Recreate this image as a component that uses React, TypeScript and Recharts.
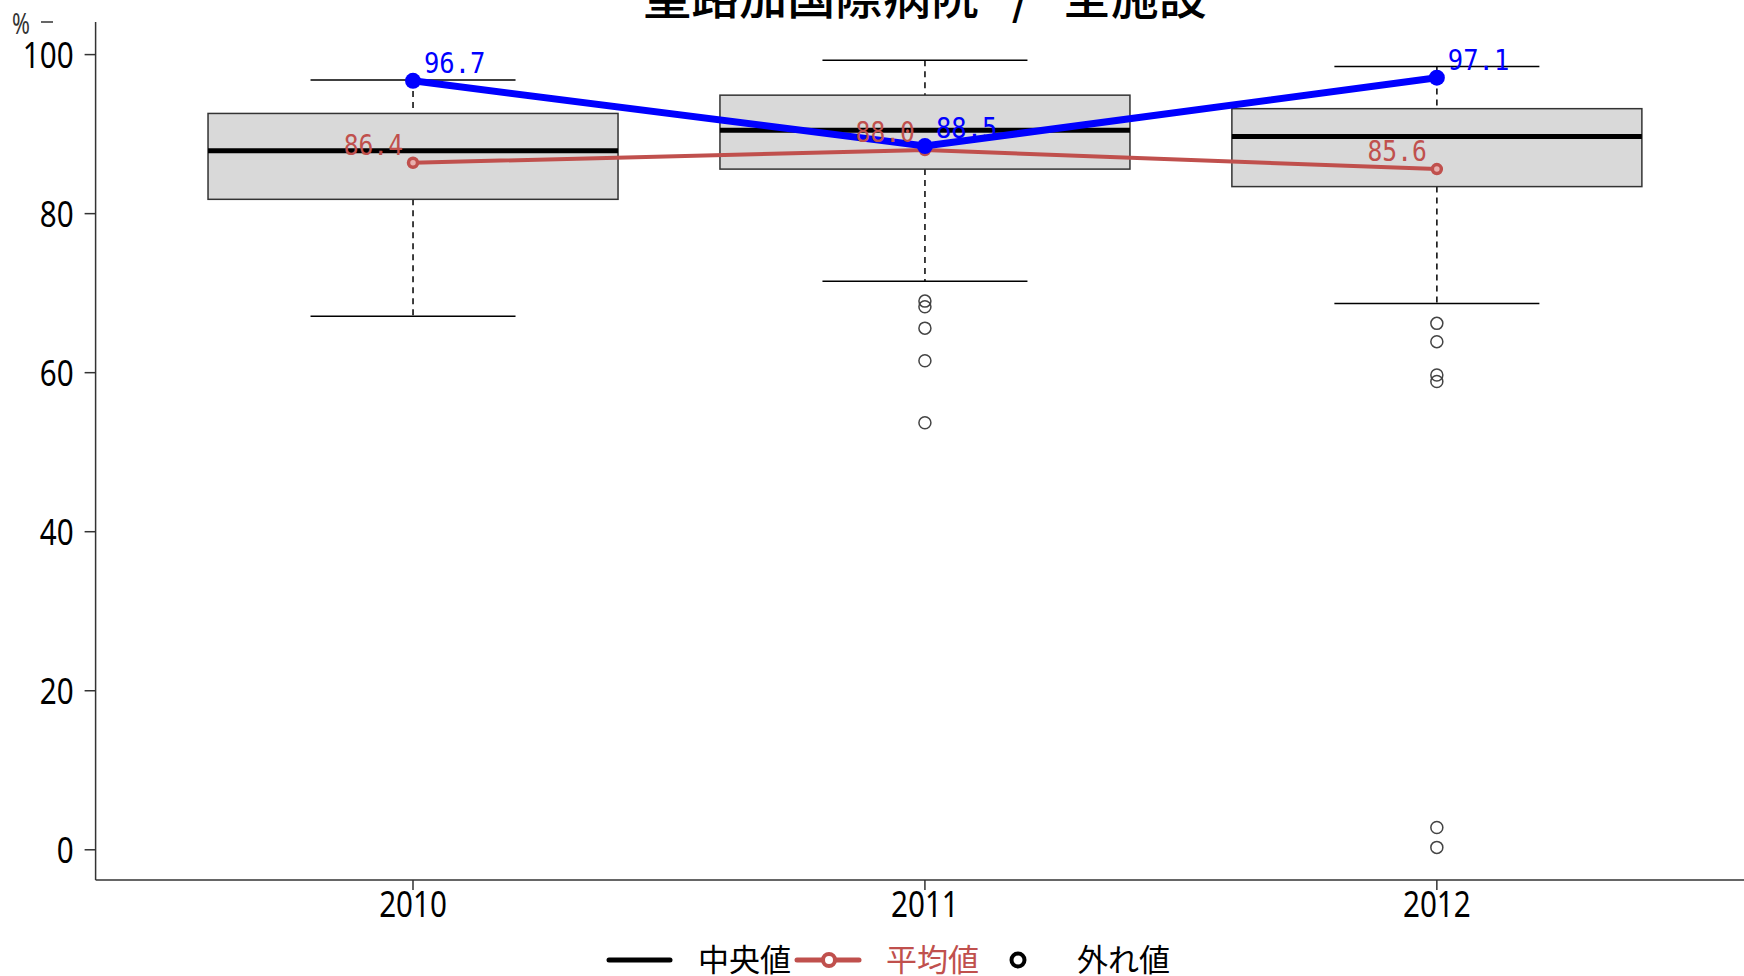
import React from 'react';
import {ComposedChart, Bar, Line, Scatter, XAxis, YAxis, LabelList} from 'recharts';

// 全施設の箱ひげ図 (年別)
const years = [2010, 2011, 2012];
const whiskerLow = [67.1, 71.5, 68.7];
const q1 = [81.8, 85.6, 83.4];
const median = [87.9, 90.5, 89.7];
const q3 = [92.6, 94.9, 93.2];
const whiskerHigh = [96.8, 99.3, 98.5];
const meanAll = [86.4, 88.0, 85.6];
// 聖路加国際病院の値
const hospital = [96.7, 88.5, 97.1];

const outlierYears = [2011, 2011, 2011, 2011, 2011, 2012, 2012, 2012, 2012, 2012, 2012];
const outlierValues = [69.0, 68.3, 65.6, 61.5, 53.7, 66.2, 63.9, 59.7, 58.9, 2.8, 0.3];

const yTicks = [0, 20, 40, 60, 80, 100];

const RED = '#C0504D';
const BLUE = '#0000FF';
const NUM_FONT = "'Noto Sans', sans-serif";
const CJK = "'Noto Sans CJK JP', sans-serif";

const data = years.map((year, i) => ({
    year,
    range: [whiskerLow[i], whiskerHigh[i]],
    whiskerLow: whiskerLow[i],
    q1: q1[i],
    median: median[i],
    q3: q3[i],
    whiskerHigh: whiskerHigh[i],
    mean: meanAll[i],
    hospital: hospital[i],
}));

const outliers = outlierYears.map((year, i) => ({year, value: outlierValues[i]}));

const BoxShape = (props: any) => {
    const {x, y, width, height, payload} = props;
    const top = height >= 0 ? y : y + height;
    const h = Math.abs(height);
    const hi = payload.whiskerHigh;
    const lo = payload.whiskerLow;
    const toY = (v: number) => top + ((hi - v) / (hi - lo)) * h;
    const cx = x + width / 2;
    const cap = width * 0.25;
    return (
        <g>
            <line x1={cx} x2={cx} y1={toY(hi)} y2={toY(payload.q3)} stroke='#000' strokeWidth={1.5} strokeDasharray='6 5' />
            <line x1={cx} x2={cx} y1={toY(payload.q1)} y2={toY(lo)} stroke='#000' strokeWidth={1.5} strokeDasharray='6 5' />
            <line x1={cx - cap} x2={cx + cap} y1={toY(hi)} y2={toY(hi)} stroke='#000' strokeWidth={1.5} />
            <line x1={cx - cap} x2={cx + cap} y1={toY(lo)} y2={toY(lo)} stroke='#000' strokeWidth={1.5} />
            <rect x={x} y={toY(payload.q3)} width={width} height={toY(payload.q1) - toY(payload.q3)}
                  fill='#D9D9D9' stroke='#333' strokeWidth={1.5} />
            <line x1={x} x2={x + width} y1={toY(payload.median)} y2={toY(payload.median)} stroke='#000' strokeWidth={5} />
        </g>
    );
};

const OutlierDot = (props: any) => (
    <circle cx={props.cx} cy={props.cy} r={6} fill='none' stroke='#444' strokeWidth={1.5} />
);

const MeanDot = (props: any) => (
    <circle key={props.index} cx={props.cx} cy={props.cy} r={4.5} fill='#E8B0AE' stroke={RED} strokeWidth={3.5} />
);

const HospitalDot = (props: any) => (
    <circle key={props.index} cx={props.cx} cy={props.cy} r={8} fill={BLUE} stroke='none' />
);

const MeanLabel = (props: any) => (
    <text transform={`translate(${props.x - 10},${props.y - 8}) scale(0.88,1)`} textAnchor='end' fill={RED}
          fontSize={28} fontFamily="'DejaVu Sans Mono', monospace">
        {Number(props.value).toFixed(1)}
    </text>
);

const HospitalLabel = (props: any) => (
    <text transform={`translate(${props.x + 11},${props.y - 8}) scale(0.88,1)`} textAnchor='start' fill={BLUE}
          fontSize={29} fontFamily="'DejaVu Sans Mono', monospace">
        {Number(props.value).toFixed(1)}
    </text>
);

// 細めの数字ラベル
const NarrowTick = (props: any) => {
    const {x, y, payload, textAnchor, vertical} = props;
    return (
        <text transform={`translate(${x},${y}) scale(0.8,1)`} textAnchor={textAnchor}
              dy={vertical ? '0.36em' : '0.74em'} fontSize={37} fill='#000' fontFamily={NUM_FONT}>
            {payload.value}
        </text>
    );
};

export default function App() {
    return (
        <div style={{position: 'absolute', left: 0, top: 0, width: 1744, height: 976, background: '#fff'}}>
            <ComposedChart width={1744} height={976} data={data}
                           margin={{top: 22, right: 0, bottom: 66, left: 0}}>
                <XAxis dataKey='year' type='number' domain={[2009.38, 2012.6]} ticks={years}
                       allowDataOverflow tickSize={10} tickMargin={0} height={30}
                       stroke='#333' strokeWidth={1.5}
                       tick={<NarrowTick vertical={false} />} />
                <YAxis type='number' domain={[-3.8, 104.1]} ticks={yTicks} width={95.6}
                       allowDataOverflow tickSize={11} tickMargin={11}
                       stroke='#333' strokeWidth={1.5}
                       tick={<NarrowTick vertical />} />
                <Bar dataKey='range' barSize={410} shape={<BoxShape />} isAnimationActive={false} />
                <Scatter data={outliers} dataKey='value' shape={<OutlierDot />} isAnimationActive={false} />
                <Line dataKey='mean' stroke={RED} strokeWidth={4} dot={<MeanDot />} activeDot={false}
                      isAnimationActive={false}>
                    <LabelList dataKey='mean' content={<MeanLabel />} />
                </Line>
                <Line dataKey='hospital' stroke={BLUE} strokeWidth={7} dot={<HospitalDot />} activeDot={false}
                      isAnimationActive={false}>
                    <LabelList dataKey='hospital' content={<HospitalLabel />} />
                </Line>
            </ComposedChart>
            <svg width={1744} height={976} style={{position: 'absolute', left: 0, top: 0, pointerEvents: 'none'}}>
                <text x={925} y={14} textAnchor='middle' fontSize={48} fontWeight={500} fontFamily={CJK} fill='#000'>
                    {'聖路加国際病院\u00A0\u00A0\u00A0/\u00A0\u00A0\u00A0全施設'}
                </text>
                <text transform='translate(12,34) scale(0.72,1)' fontSize={30} fontFamily={NUM_FONT} fill='#333'>%</text>
                <line x1={41} x2={53} y1={22} y2={22} stroke='#333' strokeWidth={1.5} />
                <line x1={609} x2={670} y1={960} y2={960} stroke='#000' strokeWidth={5} strokeLinecap='round' />
                <text x={698} y={971} fontSize={31} fontFamily={CJK} fill='#000'>中央値</text>
                <line x1={797} x2={859} y1={960} y2={960} stroke={RED} strokeWidth={5} strokeLinecap='round' />
                <circle cx={829} cy={960} r={6} fill='#fff' stroke={RED} strokeWidth={4} />
                <text x={886} y={971} fontSize={31} fontFamily={CJK} fill={RED}>平均値</text>
                <circle cx={1018} cy={960} r={6.5} fill='none' stroke='#000' strokeWidth={4} />
                <text x={1077} y={971} fontSize={31} fontFamily={CJK} fill='#000'>外れ値</text>
            </svg>
        </div>
    );
}
